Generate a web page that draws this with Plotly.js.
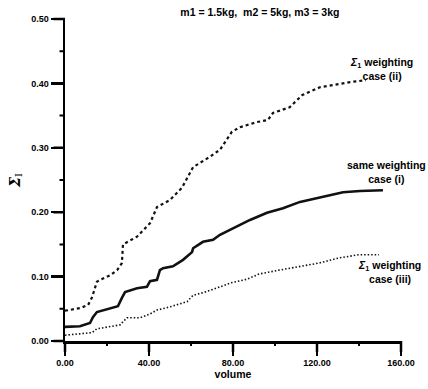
<!DOCTYPE html>
<html>
<head>
<meta charset="utf-8">
<script src="https://cdn.plot.ly/plotly-3.0.1.min.js"></script>
<style>html,body{margin:0;padding:0;background:#fff;}#chart{width:428px;height:389px;}</style>
</head>
<body>
<div id="chart"></div>
<script>
// Case (ii): Σ1 weighting (dashed)
const volII = [0, 7.1, 11, 12.9, 15.2, 16.7, 21.4, 24.8, 27.1, 27.6, 34.3, 40.5, 43.8, 50, 55.7, 61, 69, 73.8, 79.5, 83.3, 91.4, 96.6, 99, 107, 113, 121.4, 135.7, 143.3];
const sigII = [0.047, 0.051, 0.056, 0.068, 0.092, 0.095, 0.102, 0.110, 0.121, 0.150, 0.162, 0.183, 0.208, 0.219, 0.238, 0.270, 0.286, 0.297, 0.325, 0.332, 0.340, 0.343, 0.354, 0.363, 0.382, 0.394, 0.402, 0.405];
// Case (i): same weighting (solid)
const volI = [0, 7.1, 11.9, 13.3, 15.2, 21.4, 25.2, 27.1, 28.6, 34.3, 39, 40.5, 43.8, 45.2, 46.7, 51.4, 56.2, 60.5, 61, 65.7, 70.5, 73.8, 80, 88.1, 96.2, 103.8, 111.9, 120, 127.6, 132.4, 140.5, 151.4];
const sigI = [0.022, 0.023, 0.028, 0.037, 0.045, 0.050, 0.054, 0.067, 0.076, 0.082, 0.084, 0.093, 0.095, 0.110, 0.113, 0.116, 0.126, 0.138, 0.144, 0.154, 0.157, 0.165, 0.175, 0.188, 0.199, 0.206, 0.216, 0.222, 0.227, 0.231, 0.233, 0.234];
// Case (iii): Σ1 weighting (dotted)
const volIII = [0, 7.1, 12.9, 15.2, 21.4, 26.2, 29.5, 35.7, 40.5, 43.8, 50, 58.1, 61, 65.7, 73.8, 78.6, 86.7, 92.4, 101.9, 111.4, 120.9, 130.5, 140, 149.5];
const sigIII = [0.009, 0.011, 0.013, 0.019, 0.022, 0.025, 0.036, 0.036, 0.042, 0.048, 0.053, 0.061, 0.071, 0.075, 0.084, 0.090, 0.096, 0.104, 0.110, 0.115, 0.121, 0.129, 0.134, 0.134];

// Tick values / labels (labels produced by tickformat ".2f")
const xTickVals = [0, 40, 80, 120, 160];
const xTickText = ["0.00", "40.00", "80.00", "120.00", "160.00"];
const xMinorVals = [20, 60, 100, 140];
const yTickVals = [0, 0.1, 0.2, 0.3, 0.4, 0.5];
const yTickText = ["0.00", "0.10", "0.20", "0.30", "0.40", "0.50"];
const yMinorVals = [0.05, 0.15, 0.25, 0.35, 0.45];

const titleText = "m1 = 1.5kg,  m2 = 5kg, m3 = 3kg";
const labelII = "<i>Σ</i><sub>1</sub> weighting<br>case (ii)";
const labelI = "same weighting<br>case (i)";
const labelIII = "<i>Σ</i><sub>1</sub> weighting<br>case (iii)";

const FONT = "Liberation Sans, Arial, sans-serif";

const traces = [
  {x: volII, y: sigII, mode: "lines", line: {color: "#111", width: 2.2, dash: "3px,3px"}, hoverinfo: "skip"},
  {x: volI, y: sigI, mode: "lines", line: {color: "#111", width: 2.6}, hoverinfo: "skip"},
  {x: volIII, y: sigIII, mode: "lines", line: {color: "#111", width: 1.6, dash: "1.5px,2px"}, hoverinfo: "skip"}
];

const tickFont = {family: FONT, size: 9, color: "#000", weight: "bold"};
const xStep = xTickVals[1] - xTickVals[0];
const yStep = yTickVals[1] - yTickVals[0];

// Tick marks as arrow-only annotations anchored on the axes' own scales (lengths in px)
const tickMarks = [];
function tickMark(xv, yv, ax, ay, w) {
  tickMarks.push({x: xv, y: yv, xref: "x", yref: "y", text: " ", font: {size: 1}, showarrow: true,
    arrowhead: 0, arrowwidth: w, arrowcolor: "#000", ax: ax, ay: ay, standoff: 0, startstandoff: 0});
}
xTickVals.forEach(v => tickMark(v, 0, 0, 13, 2.5));
xMinorVals.forEach(v => tickMark(v, 0, 0, 7, 2));
yTickVals.forEach(v => tickMark(0, v, -13, 0, 2.5));
yMinorVals.forEach(v => tickMark(0, v, -7, 0, 2));

const layout = {
  width: 428, height: 389,
  margin: {l: 65, r: 27, t: 19, b: 48},
  paper_bgcolor: "#fff", plot_bgcolor: "#fff",
  showlegend: false,
  font: {family: FONT, color: "#000"},
  title: {text: titleText, font: {family: FONT, size: 10.5, weight: "bold", color: "#000"},
          x: 0.58, xref: "paper", xanchor: "center", y: 1 - 12/389, yref: "container", yanchor: "middle"},
  xaxis: {
    range: [xTickVals[0], xTickVals[xTickVals.length - 1]], tickmode: "linear", tick0: xTickVals[0], dtick: xStep, tickformat: ".2f",
    showgrid: false, zeroline: false, showline: true, linecolor: "#000", linewidth: 2.5,
    ticks: "outside", ticklen: 12, tickwidth: 2.5, tickcolor: "#000", tickfont: tickFont,
    title: {text: "volume", font: {family: FONT, size: 10.5, weight: "bold", color: "#000"}, standoff: 4}
  },
  yaxis: {
    range: [yTickVals[0], yTickVals[yTickVals.length - 1]], tickmode: "linear", tick0: yTickVals[0], dtick: yStep, tickformat: ".2f",
    showgrid: false, zeroline: false, showline: true, linecolor: "#000", linewidth: 2.5,
    ticks: "outside", ticklen: 12, tickwidth: 2.5, tickcolor: "#000", tickfont: tickFont,
    title: {text: "<b><i>Σ</i></b><sub>I</sub>", font: {family: "DejaVu Serif, serif", size: 14, color: "#000"}, standoff: 8}
  },
  annotations: tickMarks.concat([
    {x: (381-65)/336, y: (389-69-48)/322, xref: "paper", yref: "paper", text: labelII, showarrow: false,
     font: {family: FONT, size: 10.5, weight: "bold", color: "#000"}, align: "center", xanchor: "center", yanchor: "middle"},
    {x: (386-65)/336, y: (389-172-48)/322, xref: "paper", yref: "paper", text: labelI, showarrow: false,
     font: {family: FONT, size: 10.5, weight: "bold", color: "#000"}, align: "center", xanchor: "center", yanchor: "middle"},
    {x: (389-65)/336, y: (389-272-48)/322, xref: "paper", yref: "paper", text: labelIII, showarrow: false,
     font: {family: FONT, size: 10.5, weight: "bold", color: "#000"}, align: "center", xanchor: "center", yanchor: "middle"}
  ])
};

Plotly.newPlot("chart", traces, layout, {displayModeBar: false, staticPlot: true});
</script>
</body>
</html>
